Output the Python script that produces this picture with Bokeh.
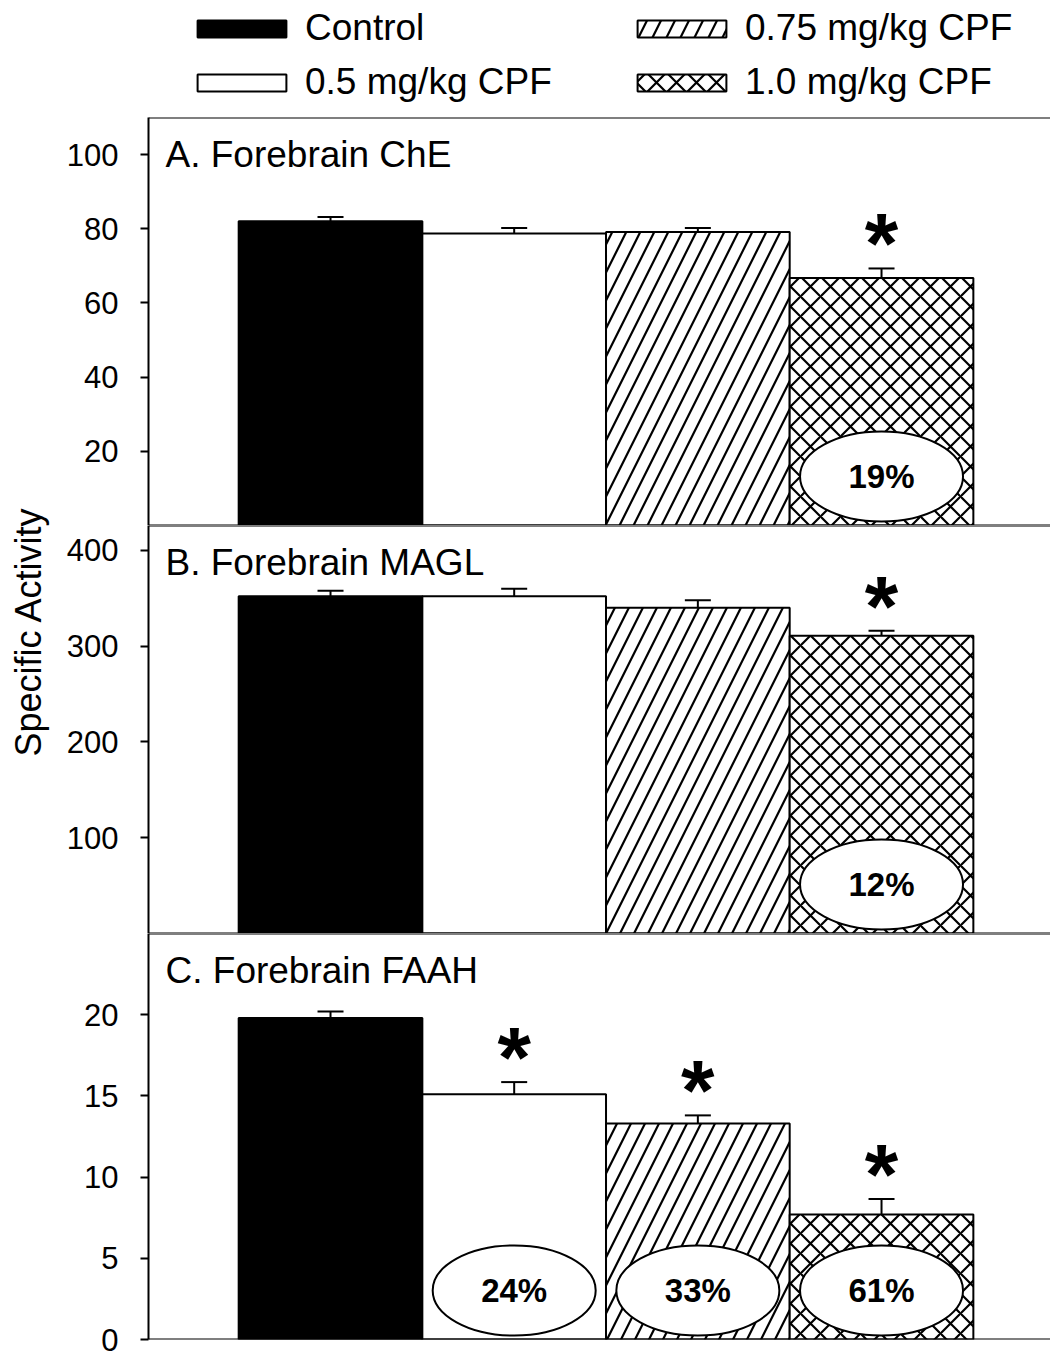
from bokeh.plotting import figure
from bokeh.models import (ColumnDataSource, FixedTicker, Whisker, TeeHead, Span,
                          Label, Legend, LegendItem, Range1d)
from bokeh.layouts import column, row
from bokeh.embed import file_html
from bokeh.resources import INLINE
from bokeh.core.properties import value

# ---------------- data ----------------
groups = ["Control", "0.5 mg/kg CPF", "0.75 mg/kg CPF", "1.0 mg/kg CPF"]
fills = ["black", "white", "white", "white"]
hatches = [" ", " ", "/", "x"]

che_mean = [82.0, 78.7, 79.1, 66.7]
che_sem = [1.2, 1.5, 1.1, 2.6]
che_sig = [False, False, False, True]
che_pct = ["", "", "", "19%"]
che_ticks = [20, 40, 60, 80, 100]

magl_mean = [352, 352, 340, 311]
magl_sem = [6, 8, 8, 5]
magl_sig = [False, False, False, True]
magl_pct = ["", "", "", "12%"]
magl_ticks = [100, 200, 300, 400]

faah_mean = [19.8, 15.1, 13.3, 7.7]
faah_sem = [0.4, 0.75, 0.5, 0.95]
faah_sig = [False, True, True, True]
faah_pct = ["", "24%", "33%", "61%"]
faah_ticks = [0, 5, 10, 15, 20]

panel_titles = ["A. Forebrain ChE", "B. Forebrain MAGL", "C. Forebrain FAAH"]
y_label = "Specific Activity"

# ---------------- style ----------------
FONT = "Liberation Sans"
LABEL_W = 60
W = 990
LEFT = 88
XR = (-0.991, 3.92)
HSCALE = {" ": 20, "/": 28, "x": 20}


def bar_source(mean, sem):
    xs = list(range(len(groups)))
    upper = [m + s for m, s in zip(mean, sem)]
    return ColumnDataSource(dict(x=xs, top=mean, upper=upper, fill=fills, hatch=hatches,
                                 hscale=[HSCALE[h] for h in hatches]))


def draw_bars(p, src, **kw):
    return p.vbar(x="x", top="top", bottom=0, width=1, source=src,
                  fill_color="fill", line_color="black", line_width=2,
                  hatch_pattern="hatch", hatch_color="black", hatch_weight=2.2,
                  hatch_scale="hscale", **kw)


def make_panel(title, mean, sem, sig, pct, ticks, ymax, frame_h, top_b, bot_b):
    p = figure(width=W, height=frame_h + top_b + bot_b,
               x_range=Range1d(*XR), y_range=Range1d(0, ymax),
               x_axis_type=None, output_backend="svg", toolbar_location=None,
               min_border_left=LEFT, min_border_right=0,
               min_border_top=top_b, min_border_bottom=bot_b)
    p.outline_line_color = None
    p.grid.visible = False

    src = bar_source(mean, sem)
    draw_bars(p, src)

    p.add_layout(Whisker(base="x", upper="upper", lower="top", source=src,
                         line_color="black", line_width=2,
                         upper_head=TeeHead(size=26, line_width=2, line_color="black"),
                         lower_head=None))

    xs = src.data["x"]
    upper = src.data["upper"]
    # significance stars
    sx = [x for x, s in zip(xs, sig) if s]
    sy = [u for u, s in zip(upper, sig) if s]
    if sx:
        p.text(x=sx, y=sy, text=["*"] * len(sx), text_font=value(FONT),
               text_font_style="bold", text_font_size="86px",
               text_align="center", text_baseline="middle", y_offset=-25,
               text_color="black")

    # percent inhibition ellipses
    px = [x for x, t in zip(xs, pct) if t]
    pt = [t for t in pct if t]
    yc = ymax * 49.0 / frame_h
    if px:
        p.ellipse(x=px, y=[yc] * len(px), width=163, height=90,
                  width_units="screen", height_units="screen",
                  fill_color="white", line_color="black", line_width=2)
        p.text(x=px, y=[yc] * len(px), text=pt, text_font=value(FONT),
               text_font_style="bold", text_font_size="33px",
               text_align="center", text_baseline="middle", text_color="black")

    # frame top/bottom lines
    p.add_layout(Span(location=0, dimension="width", line_color="black", line_width=2))
    p.add_layout(Span(location=ymax, dimension="width", line_color="black", line_width=2))

    # panel title
    p.add_layout(Label(x=17, y=frame_h - 37, x_units="screen", y_units="screen",
                       text=title, text_font=FONT, text_font_size="37px",
                       text_baseline="middle", text_color="black"))

    ax = p.yaxis[0]
    ax.ticker = FixedTicker(ticks=ticks)
    ax.axis_line_width = 2
    ax.axis_line_color = "black"
    ax.major_tick_line_width = 2
    ax.major_tick_line_color = "black"
    ax.major_tick_out = 8
    ax.major_tick_in = 0
    ax.minor_tick_out = 0
    ax.minor_tick_in = 0
    ax.major_label_standoff = 22
    ax.major_label_text_font = FONT
    ax.major_label_text_font_size = "31px"
    ax.major_label_text_color = "black"
    return p


C_FRAME = 406
C_BOTTOM = 16
pA = make_panel(panel_titles[0], che_mean, che_sem, che_sig, che_pct, che_ticks, 110, 408, 1, 0)
pB = make_panel(panel_titles[1], magl_mean, magl_sem, magl_sig, magl_pct, magl_ticks, 426, 408, 0, 0)
pC = make_panel(panel_titles[2], faah_mean, faah_sem, faah_sig, faah_pct, faah_ticks, 25, C_FRAME, 0, C_BOTTOM)

# ---------------- legend strip ----------------
LEG_H = 116
lf = figure(width=W, height=LEG_H, x_range=Range1d(*XR), y_range=Range1d(0, 1),
            x_axis_type=None, y_axis_type=None, output_backend="svg",
            toolbar_location=None, min_border_left=LEFT, min_border_right=0,
            min_border_top=0, min_border_bottom=0)
lf.outline_line_color = None
lf.grid.visible = False
leg_bars = draw_bars(lf, bar_source(che_mean, che_sem), visible=False)


def make_legend(idx, loc):
    return Legend(items=[LegendItem(label=groups[i], renderers=[leg_bars], index=i) for i in idx],
                  location=loc, orientation="vertical", glyph_width=111, glyph_height=21,
                  label_standoff=8, spacing=12, padding=0, margin=0,
                  border_line_color=None, background_fill_alpha=0,
                  label_text_font=FONT, label_text_font_size="37px",
                  label_text_color="black")


lf.add_layout(make_legend([0, 1], (38, 13)))
lf.add_layout(make_legend([2, 3], (478, 13)))

# ---------------- shared y-axis label strip ----------------
TOTAL_H = LEG_H + (408 + 1) + 408 + (C_FRAME + C_BOTTOM)
yl = figure(width=LABEL_W, height=TOTAL_H, x_range=Range1d(0, 1), y_range=Range1d(0, 1),
            x_axis_type=None, y_axis_type=None, output_backend="svg",
            toolbar_location=None, min_border=0)
yl.outline_line_color = None
yl.grid.visible = False
yl.add_layout(Label(x=28, y=TOTAL_H - 631, x_units="screen", y_units="screen",
                    text=y_label, angle=1.5707963, text_font=FONT,
                    text_font_size="36px", text_align="center",
                    text_baseline="middle", text_color="black"))

layout = row(yl, column(lf, pA, pB, pC, spacing=0), spacing=0)
open("out.html", "w").write(file_html(layout, INLINE))
